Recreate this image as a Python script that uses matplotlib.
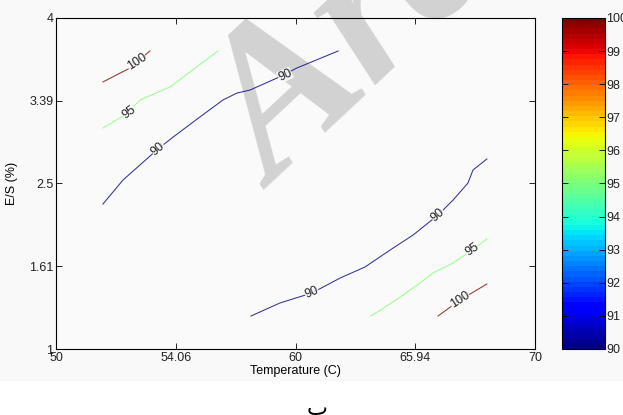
"""Contour plot of E/S vs temperature with a jet colorbar (MATLAB style)."""

import numpy as np
import matplotlib
import matplotlib.pyplot as plt
from matplotlib.colors import Normalize
from matplotlib.cm import ScalarMappable
from matplotlib.patches import Rectangle

# Axis ticks: evenly spaced positions, labelled with the real values
x_tick_pos = [50, 55, 60, 65, 70]
x_tick_labels = ["50", "54.06", "60", "65.94", "70"]
y_tick_pos = [1, 1.75, 2.5, 3.25, 4]
y_tick_labels = ["1", "1.61", "2.5", "3.39", "4"]

# Contour lines (plot units)
c90_upper_x = [51.96, 52.80, 54.26, 54.89, 56.01, 56.97, 57.56, 58.10, 59.23, 60.06, 61.78]
c90_upper_y = [2.314, 2.532, 2.813, 2.921, 3.103, 3.257, 3.320, 3.347, 3.456, 3.547, 3.701]
c95_upper_x = [51.96, 52.88, 53.51, 54.76, 55.60, 56.76]
c95_upper_y = [3.003, 3.121, 3.257, 3.375, 3.511, 3.701]
c100_upper_x = [51.96, 53.09, 53.92]
c100_upper_y = [3.420, 3.547, 3.701]

c90_lower_x = [58.14, 59.35, 60.69, 61.86, 62.90, 63.95, 64.91, 65.95, 66.58, 67.20, 67.41, 67.99]
c90_lower_y = [1.299, 1.417, 1.508, 1.643, 1.743, 1.897, 2.033, 2.214, 2.350, 2.504, 2.622, 2.722]
c95_lower_x = [63.15, 64.07, 65.20, 65.74, 66.58, 67.37, 67.99]
c95_lower_y = [1.299, 1.426, 1.598, 1.689, 1.779, 1.897, 1.997]
c100_lower_x = [65.95, 66.87, 67.99]
c100_lower_y = [1.299, 1.444, 1.589]

contour_levels = [90, 95, 100]
cbar_ticks = [90, 91, 92, 93, 94, 95, 96, 97, 98, 99, 100]

# Label positions (x, y) for each line
labels_90_upper = [(54.26, 2.813), (59.56, 3.483)]
labels_90_lower = [(60.69, 1.508), (65.95, 2.214)]
labels_95_upper = [(53.05, 3.148)]
labels_95_lower = [(67.37, 1.897)]
labels_100_upper = [(53.38, 3.601)]
labels_100_lower = [(66.87, 1.444)]

FONT = "Liberation Sans"
cmap = matplotlib.colormaps["jet"].resampled(64)
norm = Normalize(90, 100)

W, H = 623, 415
fig = plt.figure(figsize=(W / 100, H / 100), dpi=100, facecolor="white")
fig.patches.append(Rectangle((0, 1 - 381 / H), 1, 381 / H, transform=fig.transFigure,
                             facecolor="#f9f9f9", edgecolor="none", zorder=-5))

ax = fig.add_axes([56 / W, 1 - 349 / H, 479 / W, 331 / H])
ax.set_facecolor("#fafafa")
ax.set_xlim(50, 70)
ax.set_ylim(1, 4)
ax.set_xticks(x_tick_pos)
ax.set_xticklabels(x_tick_labels, fontsize=9, family=FONT, color="#222222")
ax.set_yticks(y_tick_pos)
ax.set_yticklabels(y_tick_labels, fontsize=9, family=FONT, color="#222222")
ax.tick_params(direction="in", top=True, right=True, length=4, width=0.6, pad=2)
for s in ax.spines.values():
    s.set_linewidth(0.8)
ax.set_xlabel("Temperature (C)", fontsize=9, family=FONT, labelpad=1)
ax.set_ylabel("E/S (%)", fontsize=9, family=FONT, labelpad=8)


def draw_line(xs, ys, level, label_pts):
    color = cmap(norm(level))
    ax.plot(xs, ys, color=color, linewidth=0.75, alpha=0.8, zorder=3)
    pts = ax.transData.transform(np.column_stack([xs, ys]))
    for lx, ly in label_pts:
        p = ax.transData.transform((lx, ly))
        i = int(np.argmin(np.hypot(pts[:, 0] - p[0], pts[:, 1] - p[1])))
        j0, j1 = max(i - 1, 0), min(i + 1, len(pts) - 1)
        d = pts[j1] - pts[j0]
        ang = np.degrees(np.arctan2(d[1], d[0]))
        ax.text(lx, ly, str(level), fontsize=9, family=FONT, rotation=ang,
                rotation_mode="anchor", ha="center", va="center", zorder=4,
                color="#222222",
                bbox=dict(facecolor="#fafafa", edgecolor="none", pad=0.1, alpha=0.9))


draw_line(c90_upper_x, c90_upper_y, contour_levels[0], labels_90_upper)
draw_line(c95_upper_x, c95_upper_y, contour_levels[1], labels_95_upper)
draw_line(c100_upper_x, c100_upper_y, contour_levels[2], labels_100_upper)
draw_line(c90_lower_x, c90_lower_y, contour_levels[0], labels_90_lower)
draw_line(c95_lower_x, c95_lower_y, contour_levels[1], labels_95_lower)
draw_line(c100_lower_x, c100_lower_y, contour_levels[2], labels_100_lower)

# Colorbar
cax = fig.add_axes([562 / W, 1 - 349 / H, 43 / W, 331 / H])
sm = ScalarMappable(norm=norm, cmap=cmap)
cb = fig.colorbar(sm, cax=cax, ticks=cbar_ticks)
cb.ax.set_yticklabels([str(t) for t in cbar_ticks], fontsize=9, family=FONT, color="#222222")
cb.ax.tick_params(direction="in", left=True, right=True, length=4, width=0.6, pad=1)
cb.outline.set_linewidth(0.8)

# Watermark, drawn behind the contour lines but spilling out of the axes
ax.text(274 / W, 1 - 190 / H, "Arc", transform=fig.transFigure, fontsize=150,
        family="Liberation Serif", style="italic", weight="bold", color="#d2d2d2",
        rotation=43, rotation_mode="anchor", ha="left", va="baseline", zorder=1,
        clip_on=False)

fig.text(317 / W, 1 - 409 / H, "ب", fontsize=16, family="DejaVu Sans",
         ha="center", va="center")

fig.savefig("out.png", dpi=100)
